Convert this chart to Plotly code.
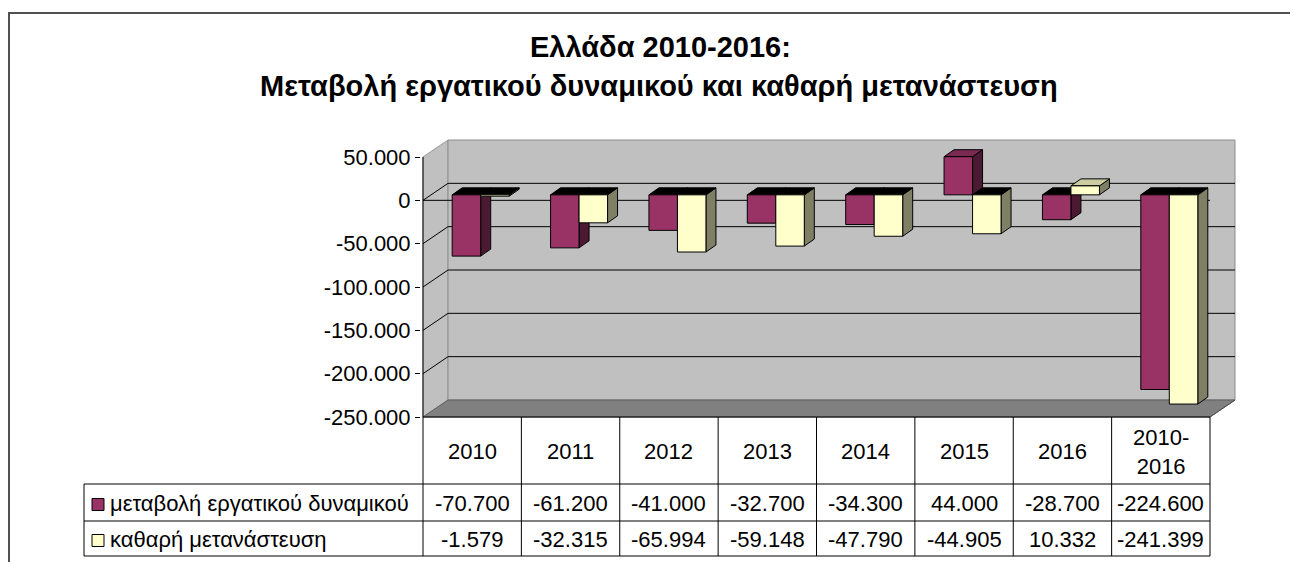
import plotly.graph_objects as go

# ---------------- data ----------------
categories = ["2010", "2011", "2012", "2013", "2014", "2015", "2016", "2010-2016"]
category_labels = ["2010", "2011", "2012", "2013", "2014", "2015", "2016", "2010-<br>2016"]
labour_change = [-70700, -61200, -41000, -32700, -34300, 44000, -28700, -224600]
net_migration = [-1579, -32315, -65994, -59148, -47790, -44905, 10332, -241399]
series_names = ["μεταβολή εργατικού δυναμικού", "καθαρή μετανάστευση"]
y_tick_values = [50000, 0, -50000, -100000, -150000, -200000, -250000]
title_line1 = "Ελλάδα 2010-2016:"
title_line2 = "Μεταβολή εργατικού δυναμικού και καθαρή μετανάστευση"

# ---------------- styling / geometry (window pixel coordinates) ----------------
WIN_W, WIN_H = 1298, 562
OFF = 8                      # page body margin
FW, FH = WIN_W - OFF, WIN_H - OFF
FONT = "Liberation Sans, Arial, sans-serif"
FRONT_LEFT = 423.0          # px of category -0.5 on the front plane
PX_CAT = 98.375             # px per category
Y_BOTTOM_PX, Y_TOP_PX = 417.0, 157.0
YMIN, YMAX = -250000, 50000
U = (YMAX - YMIN) / (Y_BOTTOM_PX - Y_TOP_PX)   # value units per px
PLOT_L, PLOT_R, PLOT_T, PLOT_B = 421, 1240, 138, 420
PW, PH = PLOT_R - PLOT_L, PLOT_B - PLOT_T
x_range = [-0.5 - (FRONT_LEFT - PLOT_L) / PX_CAT, -0.5 + (PLOT_R - FRONT_LEFT) / PX_CAT]
y_range = [YMIN - (PLOT_B - Y_BOTTOM_PX) * U, YMIN + (Y_BOTTOM_PX - PLOT_T) * U]

DXW, DYW = 25 / PX_CAT, 17 * U      # wall depth
OX, OY = 8.5 / PX_CAT, 5.5 * U      # bar front plane offset
BX, BY = 10 / PX_CAT, 7 * U         # bar depth
BW = 28.5 / PX_CAT                  # bar width
n = len(categories)
XL, XR = -0.5, n - 0.5

colors = {
    0: dict(front="#993366", side="#4C1933", top="#7A2952"),
    1: dict(front="#FFFFCC", side="#7F7F66", top="#CCCCA3"),
}


def px_x(px):
    return (px - PLOT_L) / PW


def px_y(py):
    return (PLOT_B - py) / PH


def cat_px(c):
    return FRONT_LEFT + (c + 0.5) * PX_CAT


def fmt(v):
    return f"{v:,}".replace(",", ".")


fig = go.Figure()


def poly_trace(polys, color):
    xs, ys = [], []
    for p in polys:
        for (a, b) in p + [p[0]]:
            xs.append(a)
            ys.append(b)
        xs.append(None)
        ys.append(None)
    fig.add_trace(go.Scatter(x=xs, y=ys, mode="lines", fill="toself", fillcolor=color,
                             line=dict(color="black", width=1), hoverinfo="skip",
                             showlegend=False))


for s, vals in enumerate([labour_change, net_migration]):
    sides, tops_neg, tops_pos, fronts = [], [], [], []
    for i, v in enumerate(vals):
        x0 = i + OX - BW if s == 0 else i + OX
        x1 = x0 + BW
        ylo, yhi = OY + min(v, 0), OY + max(v, 0)
        fronts.append([(x0, ylo), (x1, ylo), (x1, yhi), (x0, yhi)])
        sides.append([(x1, ylo), (x1, yhi), (x1 + BX, yhi + BY), (x1 + BX, ylo + BY)])
        top = [(x0, yhi), (x1, yhi), (x1 + BX, yhi + BY), (x0 + BX, yhi + BY)]
        (tops_neg if v < 0 else tops_pos).append(top)
    c = colors[s]
    poly_trace(sides, c["side"])
    if tops_neg:
        poly_trace(tops_neg, "#000000")
    if tops_pos:
        poly_trace(tops_pos, c["top"])
    poly_trace(fronts, c["front"])

shapes = []
# side wall
shapes.append(dict(type="path", xref="x", yref="y", layer="below",
                   path=f"M{XL},{YMAX} L{XL+DXW},{YMAX+DYW} L{XL+DXW},{YMIN+DYW} L{XL},{YMIN} Z",
                   fillcolor="#C0C0C0", line=dict(color="#9A9A9A", width=1)))
# back wall
shapes.append(dict(type="rect", xref="x", yref="y", layer="below",
                   x0=XL + DXW, x1=XR + DXW, y0=YMIN + DYW, y1=YMAX + DYW,
                   fillcolor="#C0C0C0", line=dict(color="#8C8C8C", width=1)))
# floor
shapes.append(dict(type="path", xref="x", yref="y", layer="below",
                   path=f"M{XL},{YMIN} L{XR},{YMIN} L{XR+DXW},{YMIN+DYW} L{XL+DXW},{YMIN+DYW} Z",
                   fillcolor="#808080", line=dict(color="#606060", width=1)))
# gridlines
for t in y_tick_values:
    if t in (YMAX, YMIN):
        continue
    shapes.append(dict(type="line", xref="x", yref="y", layer="below",
                       x0=XL + DXW, x1=XR + DXW, y0=t + DYW, y1=t + DYW,
                       line=dict(color="black", width=1)))
    shapes.append(dict(type="line", xref="x", yref="y", layer="below",
                       x0=XL, x1=XL + DXW, y0=t, y1=t + DYW,
                       line=dict(color="black", width=1)))
# front zero line
shapes.append(dict(type="line", xref="x", yref="y", layer="below",
                   x0=XL, x1=XR, y0=0, y1=0, line=dict(color="black", width=1)))
# value axis line
shapes.append(dict(type="line", xref="x", yref="y", layer="above",
                   x0=XL, x1=XL, y0=YMIN, y1=YMAX, line=dict(color="black", width=1)))

# ---------------- data table ----------------
TAB_TOP, ROW1_TOP, ROW2_TOP, TAB_BOT = 417, 484, 521, 556
LEG_LEFT = 84
table_line = dict(color="black", width=1)
shapes.append(dict(type="line", xref="paper", yref="paper",
                   x0=px_x(FRONT_LEFT), x1=px_x(cat_px(n - 0.5)), y0=px_y(TAB_TOP), y1=px_y(TAB_TOP),
                   line=table_line))
for yy in (ROW1_TOP, ROW2_TOP, TAB_BOT):
    shapes.append(dict(type="line", xref="paper", yref="paper",
                       x0=px_x(LEG_LEFT), x1=px_x(cat_px(n - 0.5)), y0=px_y(yy), y1=px_y(yy),
                       line=table_line))
for i in range(n + 1):
    xx = px_x(cat_px(i - 0.5))
    shapes.append(dict(type="line", xref="paper", yref="paper",
                       x0=xx, x1=xx, y0=px_y(TAB_TOP), y1=px_y(TAB_BOT), line=table_line))
shapes.append(dict(type="line", xref="paper", yref="paper",
                   x0=px_x(LEG_LEFT), x1=px_x(LEG_LEFT), y0=px_y(ROW1_TOP), y1=px_y(TAB_BOT),
                   line=table_line))
# floor right edge
shapes.append(dict(type="line", xref="x", yref="y", layer="above",
                   x0=XR, x1=XR + DXW, y0=YMIN, y1=YMIN + DYW, line=dict(color="#505050", width=1)))

annotations = []
header_y = (TAB_TOP + ROW1_TOP) / 2 + 1
row_ys = [(ROW1_TOP + ROW2_TOP) / 2 + 1, (ROW2_TOP + TAB_BOT) / 2 + 1]
for i, lab in enumerate(category_labels):
    annotations.append(dict(xref="x", yref="paper", x=i, y=px_y(header_y), text=lab,
                            showarrow=False, font=dict(family=FONT, size=22, color="black"),
                            xanchor="center", yanchor="middle"))
for r, vals in enumerate([labour_change, net_migration]):
    for i, v in enumerate(vals):
        annotations.append(dict(xref="x", yref="paper", x=i, y=px_y(row_ys[r]), text=fmt(v),
                                showarrow=False, font=dict(family=FONT, size=22, color="black"),
                                xanchor="center", yanchor="middle"))
    annotations.append(dict(xref="paper", yref="paper", x=px_x(108), y=px_y(row_ys[r]),
                            text=series_names[r], showarrow=False,
                            font=dict(family=FONT, size=22, color="black"),
                            xanchor="left", yanchor="middle"))
    sq_c = row_ys[r] + 1
    shapes.append(dict(type="rect", xref="paper", yref="paper",
                       x0=px_x(92), x1=px_x(104), y0=px_y(sq_c - 6), y1=px_y(sq_c + 6),
                       fillcolor=colors[r]["front"], line=dict(color="black", width=1)))

# title
annotations.append(dict(xref="paper", yref="paper", x=px_x(660), y=px_y(47), text=f"<b>{title_line1}</b>",
                        showarrow=False, font=dict(family=FONT, size=29, color="black"),
                        xanchor="center", yanchor="middle"))
annotations.append(dict(xref="paper", yref="paper", x=px_x(659), y=px_y(86), text=f"<b>{title_line2}</b>",
                        showarrow=False, font=dict(family=FONT, size=29, color="black"),
                        xanchor="center", yanchor="middle"))

# outer chart border
shapes.append(dict(type="rect", xref="paper", yref="paper",
                   x0=px_x(9), x1=px_x(1310), y0=px_y(13), y1=px_y(580),
                   line=dict(color="#505050", width=2), fillcolor="rgba(0,0,0,0)"))

fig.update_layout(
    width=FW, height=FH, autosize=False,
    margin=dict(l=PLOT_L - OFF, r=WIN_W - PLOT_R, t=PLOT_T - OFF, b=WIN_H - PLOT_B, pad=0),
    paper_bgcolor="white", plot_bgcolor="white",
    showlegend=False,
    shapes=shapes, annotations=annotations,
    xaxis=dict(range=x_range, showgrid=False, zeroline=False, showline=False,
               showticklabels=False, ticks="", fixedrange=True),
    yaxis=dict(range=y_range, showgrid=False, zeroline=False, showline=False,
               tickvals=y_tick_values, ticktext=[fmt(v) for v in y_tick_values],
               ticks="outside", ticklen=5, tickcolor="black", tickwidth=1,
               tickfont=dict(family=FONT, size=22, color="black"), fixedrange=True),
    font=dict(family=FONT),
)

fig.write_html("out.html")
